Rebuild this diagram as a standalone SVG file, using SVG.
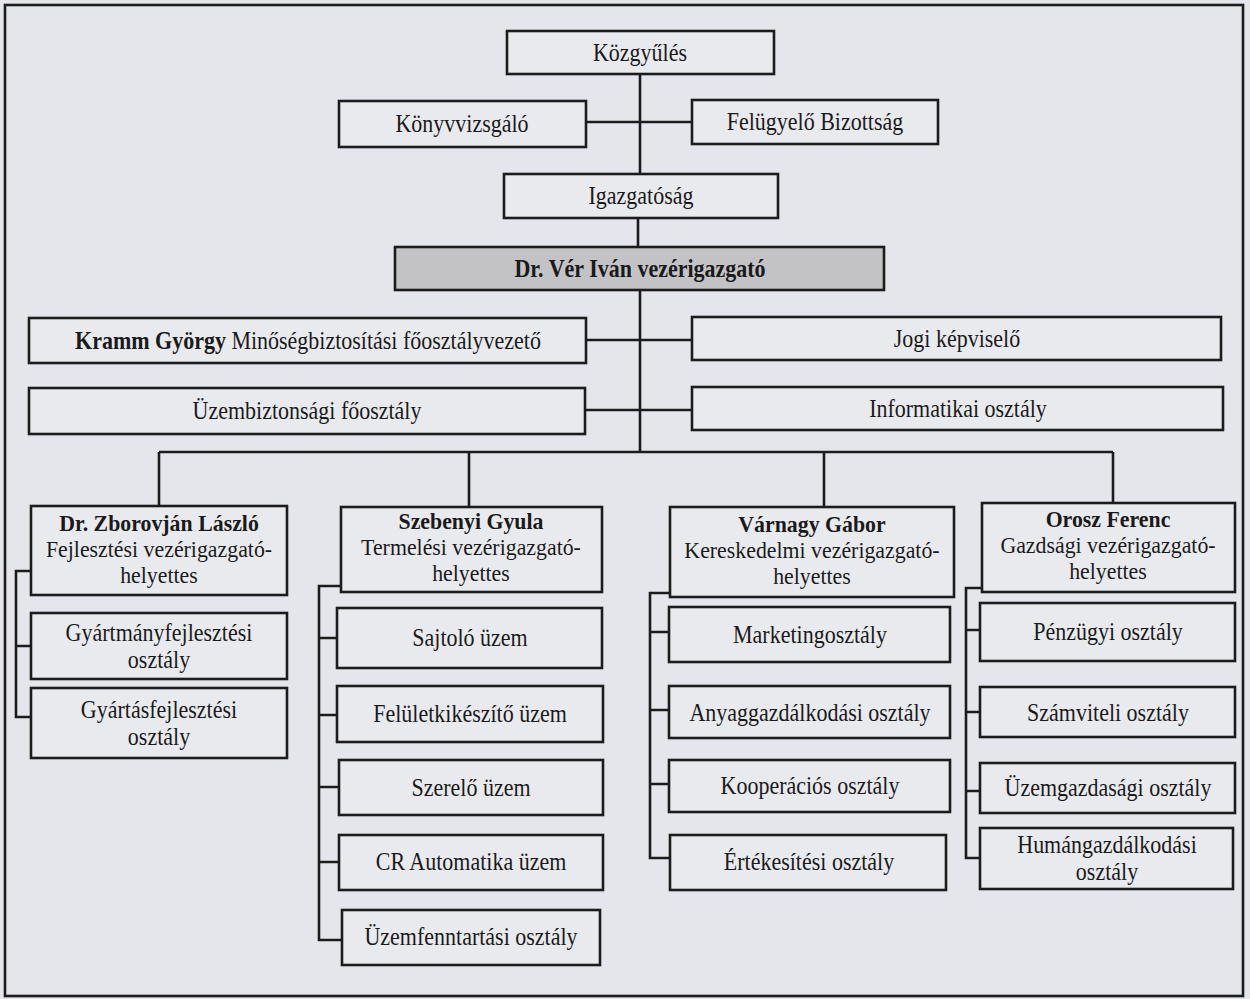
<svg xmlns="http://www.w3.org/2000/svg" width="1250" height="999" viewBox="0 0 1250 999">
<style>
.bg{fill:#e5e6eb}
.box{fill:#e9eaee;stroke:#1c1c1c;stroke-width:2.6}
.gray{fill:#c3c3c6;stroke:#1c1c1c;stroke-width:2.6}
.ln{fill:none;stroke:#1c1c1c;stroke-width:2.6}
text{font-family:"Liberation Serif","Times New Roman",serif;font-size:25px;fill:#1a1a1a;text-anchor:middle}
.b{font-weight:bold}
.m{font-size:23px}
</style>
<rect class="bg" x="0" y="0" width="1250" height="999"/>
<rect class="ln" x="5" y="5" width="1238" height="991"/>
<g id="connectors">
<path class="ln" d="M640,74 V174 M586,122 H692 M638,218 V247 M640,290 V452 M586,340 H692 M585,410 H692 M159,452 H1113 M159,452 V506 M469,452 V507 M824,452 V507 M1113,452 V503"/>
<path class="ln" d="M31,571 H16 V717 H31 M16,646 H31"/>
<path class="ln" d="M341,586 H319 V940 H342 M319,638 H337 M319,715 H337 M319,787 H339 M319,862 H339"/>
<path class="ln" d="M670,593 H650 V858 H670 M650,632 H669 M650,710 H669 M650,784 H669"/>
<path class="ln" d="M982,588 H966 V858 H980 M966,630 H980 M966,712 H980 M966,791 H980"/>
</g>
<g id="kozgyules"><rect class="box" x="507" y="31" width="267" height="43"/><g transform="translate(640 0) scale(0.88 1)"><text x="0" y="61">Közgyűlés</text></g></g>
<g id="konyvvizsgalo"><rect class="box" x="339" y="101" width="247" height="46"/><g transform="translate(462 0) scale(0.88 1)"><text x="0" y="132">Könyvvizsgáló</text></g></g>
<g id="felugyelo"><rect class="box" x="692" y="100" width="246" height="44"/><g transform="translate(815 0) scale(0.88 1)"><text x="0" y="130">Felügyelő Bizottság</text></g></g>
<g id="igazgatosag"><rect class="box" x="504" y="174" width="274" height="44"/><g transform="translate(641 0) scale(0.88 1)"><text x="0" y="204">Igazgatóság</text></g></g>
<g id="ver"><rect class="gray" x="395" y="247" width="489" height="43"/><g transform="translate(640 0) scale(0.88 1)"><text class="b" x="0" y="277">Dr. Vér Iván vezérigazgató</text></g></g>
<g id="kramm"><rect class="box" x="29" y="318" width="557" height="45"/><g transform="translate(308 0) scale(0.88 1)"><text x="0" y="349"><tspan class="b">Kramm György</tspan> Minőségbiztosítási főosztályvezető</text></g></g>
<g id="jogi"><rect class="box" x="692" y="317" width="529" height="43"/><g transform="translate(957 0) scale(0.88 1)"><text x="0" y="347">Jogi képviselő</text></g></g>
<g id="uzembiztonsagi"><rect class="box" x="29" y="388" width="556" height="46"/><g transform="translate(307 0) scale(0.88 1)"><text x="0" y="419">Üzembiztonsági főosztály</text></g></g>
<g id="informatikai"><rect class="box" x="692" y="387" width="531" height="43"/><g transform="translate(958 0) scale(0.88 1)"><text x="0" y="417">Informatikai osztály</text></g></g>
<g id="zborovjan"><rect class="box" x="31" y="506" width="256" height="89"/><g transform="translate(159 0) scale(0.95 1)"><text class="b m" x="0" y="531">Dr. Zborovján László</text><text class="m" x="0" y="557">Fejlesztési vezérigazgató-</text><text class="m" x="0" y="583">helyettes</text></g></g>
<g id="szebenyi"><rect class="box" x="341" y="507" width="261" height="85"/><g transform="translate(471 0) scale(0.95 1)"><text class="b m" x="0" y="529">Szebenyi Gyula</text><text class="m" x="0" y="555">Termelési vezérigazgató-</text><text class="m" x="0" y="581">helyettes</text></g></g>
<g id="varnagy"><rect class="box" x="670" y="507" width="284" height="90"/><g transform="translate(812 0) scale(0.95 1)"><text class="b m" x="0" y="532">Várnagy Gábor</text><text class="m" x="0" y="558">Kereskedelmi vezérigazgató-</text><text class="m" x="0" y="584">helyettes</text></g></g>
<g id="orosz"><rect class="box" x="982" y="503" width="253" height="89"/><g transform="translate(1108 0) scale(0.95 1)"><text class="b m" x="0" y="527">Orosz Ferenc</text><text class="m" x="0" y="553">Gazdsági vezérigazgató-</text><text class="m" x="0" y="579">helyettes</text></g></g>
<g id="gyartmany"><rect class="box" x="31" y="613" width="256" height="66"/><g transform="translate(159 0) scale(0.88 1)"><text x="0" y="641">Gyártmányfejlesztési</text><text x="0" y="668">osztály</text></g></g>
<g id="gyartas"><rect class="box" x="31" y="688" width="256" height="70"/><g transform="translate(159 0) scale(0.88 1)"><text x="0" y="718">Gyártásfejlesztési</text><text x="0" y="745">osztály</text></g></g>
<g id="sajtolo"><rect class="box" x="337" y="608" width="265" height="60"/><g transform="translate(470 0) scale(0.88 1)"><text x="0" y="646">Sajtoló üzem</text></g></g>
<g id="feluletkikeszito"><rect class="box" x="337" y="686" width="266" height="56"/><g transform="translate(470 0) scale(0.88 1)"><text x="0" y="722">Felületkikészítő üzem</text></g></g>
<g id="szerelo"><rect class="box" x="339" y="760" width="264" height="55"/><g transform="translate(471 0) scale(0.88 1)"><text x="0" y="796">Szerelő üzem</text></g></g>
<g id="cr"><rect class="box" x="339" y="835" width="264" height="55"/><g transform="translate(471 0) scale(0.88 1)"><text x="0" y="870">CR Automatika üzem</text></g></g>
<g id="uzemfenntartasi"><rect class="box" x="342" y="910" width="258" height="55"/><g transform="translate(471 0) scale(0.88 1)"><text x="0" y="945">Üzemfenntartási osztály</text></g></g>
<g id="marketing"><rect class="box" x="669" y="607" width="281" height="55"/><g transform="translate(810 0) scale(0.88 1)"><text x="0" y="643">Marketingosztály</text></g></g>
<g id="anyag"><rect class="box" x="669" y="686" width="281" height="52"/><g transform="translate(810 0) scale(0.88 1)"><text x="0" y="721">Anyaggazdálkodási osztály</text></g></g>
<g id="kooperacios"><rect class="box" x="669" y="760" width="281" height="52"/><g transform="translate(810 0) scale(0.88 1)"><text x="0" y="794">Kooperációs osztály</text></g></g>
<g id="ertekesitesi"><rect class="box" x="670" y="835" width="276" height="55"/><g transform="translate(809 0) scale(0.88 1)"><text x="0" y="870">Értékesítési osztály</text></g></g>
<g id="penzugyi"><rect class="box" x="980" y="603" width="255" height="58"/><g transform="translate(1108 0) scale(0.88 1)"><text x="0" y="640">Pénzügyi osztály</text></g></g>
<g id="szamviteli"><rect class="box" x="980" y="687" width="255" height="50"/><g transform="translate(1108 0) scale(0.88 1)"><text x="0" y="721">Számviteli osztály</text></g></g>
<g id="uzemgazdasagi"><rect class="box" x="980" y="763" width="255" height="50"/><g transform="translate(1108 0) scale(0.88 1)"><text x="0" y="796">Üzemgazdasági osztály</text></g></g>
<g id="human"><rect class="box" x="980" y="828" width="253" height="61"/><g transform="translate(1107 0) scale(0.88 1)"><text x="0" y="853">Humángazdálkodási</text><text x="0" y="880">osztály</text></g></g>
</svg>
